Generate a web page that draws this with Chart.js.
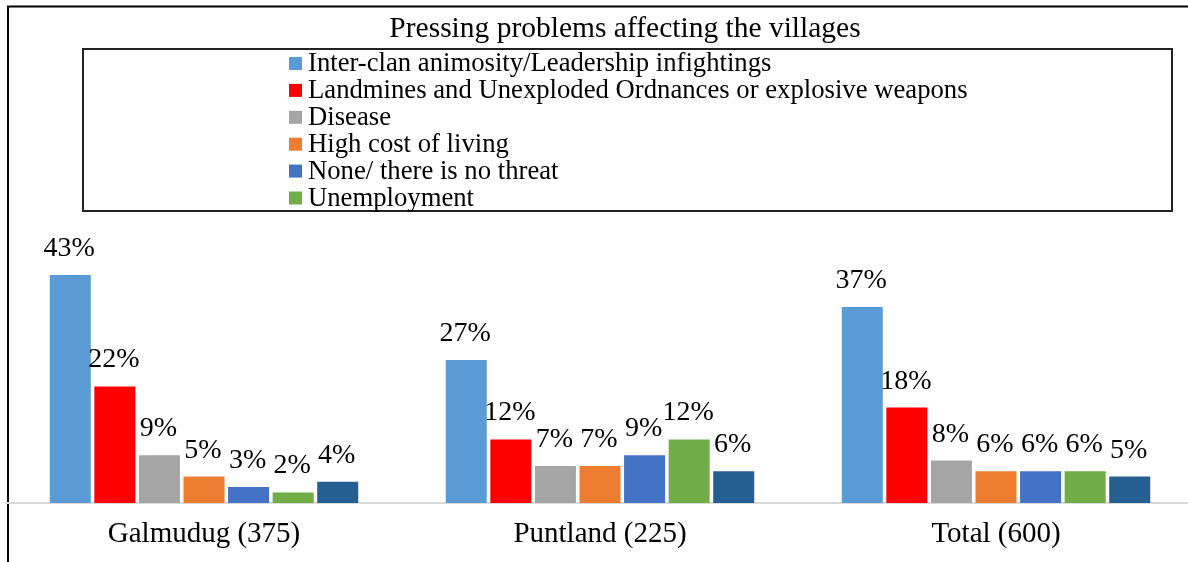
<!DOCTYPE html>
<html lang="en">
<head>
<meta charset="UTF-8">
<title>Pressing problems affecting the villages</title>
<script src="https://cdn.jsdelivr.net/npm/chart.js"></script>
<style>
  html, body { margin: 0; padding: 0; background: #fff; overflow: hidden; }
  #chart { display: block; }
</style>
</head>
<body>
<canvas id="chart" width="1240" height="580"></canvas>
<script>
// data
const regions = ['Galmudug (375)', 'Puntland (225)', 'Total (600)'];
const problems = [
  'Inter-clan animosity/Leadership infightings',
  'Landmines and Unexploded Ordnances or explosive weapons',
  'Disease',
  'High cost of living',
  'None/ there is no threat',
  'Unemployment',
  'Other'
];
const interClan = [43, 27, 37];
const landmines = [22, 12, 18];
const disease = [9, 7, 8];
const highCost = [5, 7, 6];
const noThreat = [3, 9, 6];
const unemployment = [2, 12, 6];
const other = [4, 6, 5];   // 7th series, no legend entry in the picture

const series = [interClan, landmines, disease, highCost, noThreat, unemployment, other];
const colors = ['#5B9BD5', '#FF0000', '#A5A5A5', '#ED7D31', '#4472C4', '#70AD47', '#255E91'];
const inLegend = [true, true, true, true, true, true, false];

const FONT = "'Liberation Serif', 'Times New Roman', serif";

// outer frame + title + boxed one-column legend
const decor = {
  id: 'decor',
  beforeDraw(chart) {
    const ctx = chart.ctx;
    ctx.save();
    ctx.fillStyle = '#fff';
    ctx.fillRect(0, 0, chart.width, chart.height);
    ctx.strokeStyle = '#000';
    ctx.lineWidth = 2;
    ctx.strokeRect(8, 6.5, 1234, 620);

    ctx.fillStyle = '#000';
    ctx.font = '29.5px ' + FONT;
    ctx.textAlign = 'center';
    ctx.textBaseline = 'alphabetic';
    ctx.fillText('Pressing problems affecting the villages', 625, 37);

    ctx.strokeStyle = '#222';
    ctx.strokeRect(83, 49, 1089, 162);

    ctx.font = '26.7px ' + FONT;
    ctx.textAlign = 'left';
    let row = 0;
    chart.data.datasets.forEach((ds, i) => {
      if (!inLegend[i]) return;
      const cy = 63.5 + row * 26.9;
      ctx.fillStyle = ds.backgroundColor;
      ctx.fillRect(289, cy - 6.5, 13, 13);
      ctx.fillStyle = '#000';
      ctx.fillText(ds.label, 308, cy + 7.5);
      row++;
    });
    ctx.restore();
  }
};

// percentage labels above each bar
const valueLabels = {
  id: 'valueLabels',
  afterDatasetsDraw(chart) {
    const ctx = chart.ctx;
    ctx.save();
    ctx.fillStyle = '#000';
    ctx.font = '28px ' + FONT;
    ctx.textAlign = 'center';
    ctx.textBaseline = 'alphabetic';
    chart.data.datasets.forEach((ds, i) => {
      chart.getDatasetMeta(i).data.forEach((bar, j) => {
        ctx.fillText(ds.data[j] + '%', bar.x - 1, bar.y - 19);
      });
    });
    ctx.restore();
  }
};

new Chart(document.getElementById('chart'), {
  type: 'bar',
  data: {
    labels: regions,
    datasets: series.map((vals, i) => ({
      label: problems[i],
      data: vals,
      backgroundColor: colors[i],
      categoryPercentage: 0.788,
      barPercentage: 0.92
    }))
  },
  options: {
    responsive: false,
    animation: false,
    devicePixelRatio: 1,
    layout: { padding: { left: 6, right: 46, top: 238, bottom: 15 } },
    plugins: {
      legend: { display: false },
      title: { display: false },
      tooltip: { enabled: false }
    },
    scales: {
      x: {
        grid: { display: false, drawTicks: false },
        border: { display: true, color: '#d9d9d9', width: 2 },
        ticks: { color: '#000', padding: 13.6, font: { family: FONT, size: 29 } }
      },
      y: {
        display: false,
        min: 0,
        max: 50
      }
    }
  },
  plugins: [decor, valueLabels]
});
</script>
</body>
</html>
